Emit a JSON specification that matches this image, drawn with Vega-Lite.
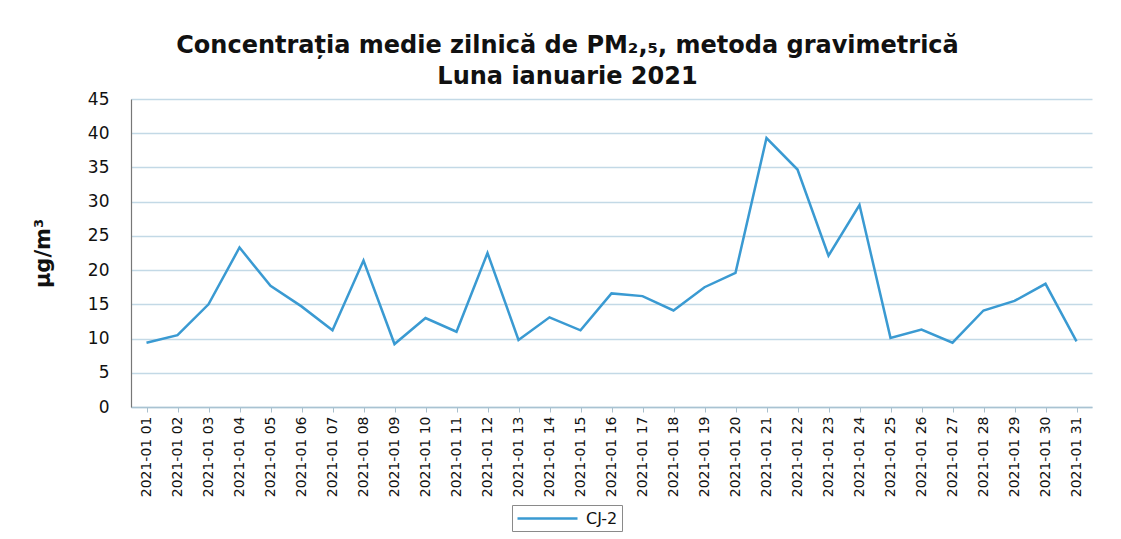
{
  "$schema": "https://vega.github.io/schema/vega-lite/v6.json",
  "width": 961,
  "height": 308,
  "autosize": {"type": "none"},
  "padding": {"left": 131, "top": 99, "right": 29, "bottom": 132},
  "background": "white",
  "config": {
    "font": "DejaVu Sans",
    "view": {"stroke": null}
  },
  "title": {
    "text": ["Concentrația medie zilnică de PM₂,₅, metoda gravimetrică", "Luna ianuarie 2021"],
    "font": "DejaVu Sans",
    "fontSize": 24,
    "fontWeight": "bold",
    "color": "#111111",
    "anchor": "middle",
    "dx": -44,
    "offset": 1,
    "lineHeight": 31
  },
  "data": {
    "values": [
      {"date": "2021-01 01", "value": 9.4, "statie": "CJ-2"},
      {"date": "2021-01 02", "value": 10.5, "statie": "CJ-2"},
      {"date": "2021-01 03", "value": 15.0, "statie": "CJ-2"},
      {"date": "2021-01 04", "value": 23.3, "statie": "CJ-2"},
      {"date": "2021-01 05", "value": 17.7, "statie": "CJ-2"},
      {"date": "2021-01 06", "value": 14.7, "statie": "CJ-2"},
      {"date": "2021-01 07", "value": 11.2, "statie": "CJ-2"},
      {"date": "2021-01 08", "value": 21.4, "statie": "CJ-2"},
      {"date": "2021-01 09", "value": 9.2, "statie": "CJ-2"},
      {"date": "2021-01 10", "value": 13.0, "statie": "CJ-2"},
      {"date": "2021-01 11", "value": 11.0, "statie": "CJ-2"},
      {"date": "2021-01 12", "value": 22.5, "statie": "CJ-2"},
      {"date": "2021-01 13", "value": 9.8, "statie": "CJ-2"},
      {"date": "2021-01 14", "value": 13.1, "statie": "CJ-2"},
      {"date": "2021-01 15", "value": 11.2, "statie": "CJ-2"},
      {"date": "2021-01 16", "value": 16.6, "statie": "CJ-2"},
      {"date": "2021-01 17", "value": 16.2, "statie": "CJ-2"},
      {"date": "2021-01 18", "value": 14.1, "statie": "CJ-2"},
      {"date": "2021-01 19", "value": 17.5, "statie": "CJ-2"},
      {"date": "2021-01 20", "value": 19.6, "statie": "CJ-2"},
      {"date": "2021-01 21", "value": 39.3, "statie": "CJ-2"},
      {"date": "2021-01 22", "value": 34.7, "statie": "CJ-2"},
      {"date": "2021-01 23", "value": 22.1, "statie": "CJ-2"},
      {"date": "2021-01 24", "value": 29.5, "statie": "CJ-2"},
      {"date": "2021-01 25", "value": 10.1, "statie": "CJ-2"},
      {"date": "2021-01 26", "value": 11.3, "statie": "CJ-2"},
      {"date": "2021-01 27", "value": 9.4, "statie": "CJ-2"},
      {"date": "2021-01 28", "value": 14.1, "statie": "CJ-2"},
      {"date": "2021-01 29", "value": 15.5, "statie": "CJ-2"},
      {"date": "2021-01 30", "value": 18.0, "statie": "CJ-2"},
      {"date": "2021-01 31", "value": 9.6, "statie": "CJ-2"}
    ]
  },
  "mark": {"type": "line", "strokeWidth": 2.5, "strokeJoin": "miter"},
  "encoding": {
    "x": {
      "field": "date",
      "type": "ordinal",
      "sort": null,
      "scale": {"type": "point", "padding": 0.5},
      "axis": {
        "title": null,
        "labelAngle": -90,
        "labelFont": "DejaVu Sans",
        "labelFontSize": 14,
        "labelColor": "#111111",
        "labelPadding": 4,
        "ticks": true,
        "tickSize": 5,
        "tickColor": "#a9bfcc",
        "domainColor": "#a9c3d2",
        "domainWidth": 1.5,
        "grid": false
      }
    },
    "y": {
      "field": "value",
      "type": "quantitative",
      "scale": {"domain": [0, 45], "nice": false},
      "axis": {
        "title": "µg/m³",
        "titleFont": "DejaVu Sans",
        "titleFontSize": 21,
        "titleFontWeight": "bold",
        "titleColor": "#111111",
        "titlePadding": 34,
        "values": [0, 5, 10, 15, 20, 25, 30, 35, 40, 45],
        "labelFont": "DejaVu Sans",
        "labelFontSize": 17,
        "labelColor": "#111111",
        "labelPadding": 22,
        "ticks": false,
        "domainColor": "#777777",
        "domainWidth": 1.2,
        "grid": true,
        "gridColor": "#c3d9e6",
        "gridWidth": 1.3
      }
    },
    "color": {
      "field": "statie",
      "type": "nominal",
      "scale": {"range": ["#3a9ad2"]},
      "legend": {
        "title": null,
        "orient": "none",
        "legendX": 381,
        "legendY": 406,
        "symbolType": "M-1,0H6.5",
        "symbolSize": 256,
        "symbolStrokeWidth": 2.5,
        "labelFont": "DejaVu Sans",
        "labelFontSize": 16,
        "labelColor": "#111111",
        "labelOffset": 51,
        "padding": 4,
        "strokeColor": "#8a8a8a",
        "fillColor": "white"
      }
    }
  }
}
